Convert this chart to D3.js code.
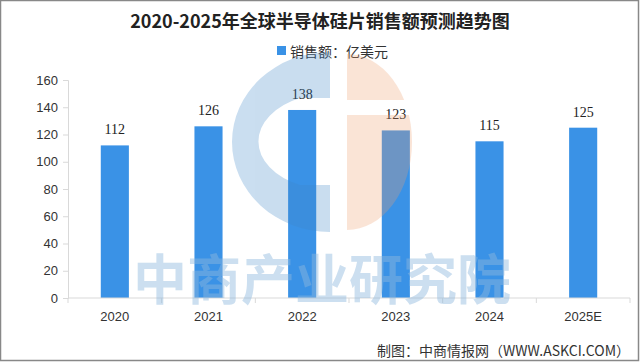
<!DOCTYPE html>
<html><head><meta charset="utf-8">
<script src="https://cdn.jsdelivr.net/npm/d3@7"></script>
<style>body{margin:0;background:#fff}svg{display:block}</style>
</head><body>
<svg id="c" width="640" height="363"></svg>
<script>
const categories = ["2020","2021","2022","2023","2024","2025E"];
const values = [112,126,138,123,115,125];
const yTicks = [0,20,40,60,80,100,120,140,160];
const title = "2020-2025年全球半导体硅片销售额预测趋势图";
const legendLabel = "销售额：亿美元";
const source = "制图：中商情报网（WWW.ASKCI.COM）";
const watermark = "中商产业研究院";

const svg = d3.select("#c");
const W = 640, H = 363;
const m = {left:68, right:10, top:80, bottom:65};
const x = d3.scaleBand().domain(categories).range([m.left, 630]).paddingInner(0.7).paddingOuter(0.35);
const y = d3.scaleLinear().domain([0,160]).range([298, 80]);
const sans = "'Liberation Sans','Noto Sans CJK SC',sans-serif";
const cjk = "'Noto Sans CJK SC',sans-serif";
const barColor = "#3a92e6";

svg.append("rect").attr("x",0).attr("y",0).attr("width",W).attr("height",H).attr("fill","#fff");

// title
svg.append("text").attr("x",320).attr("y",28).attr("text-anchor","middle")
  .attr("font-family",cjk).attr("font-weight","bold").attr("font-size",18).attr("fill","#222").text(title);

// legend
svg.append("rect").attr("x",277).attr("y",46).attr("width",9).attr("height",9).attr("fill",barColor);
svg.append("text").attr("x",290).attr("y",57).attr("font-family",cjk).attr("font-size",14).attr("fill","#333").text(legendLabel);

// y axis
const yAxis = d3.axisLeft(y).tickValues(yTicks).tickSize(5).tickPadding(5);
const gy = svg.append("g").attr("transform",`translate(${m.left},0)`).call(yAxis);
gy.select(".domain").attr("stroke","#d9d9d9");
gy.selectAll(".tick line").attr("stroke","#d9d9d9");
gy.selectAll("text").attr("font-family",sans).attr("font-size",13).attr("fill","#333");

// bars
svg.append("g").selectAll("rect").data(values).join("rect")
  .attr("x",(d,i)=>x(categories[i])).attr("width",x.bandwidth())
  .attr("y",d=>y(d)).attr("height",d=>y(0)-y(d)).attr("fill",barColor);

// labels
svg.append("g").selectAll("text").data(values).join("text")
  .attr("x",(d,i)=>x(categories[i])+x.bandwidth()/2).attr("y",d=>y(d)-11)
  .attr("text-anchor","middle").attr("font-family","'Liberation Serif',serif").attr("font-size",14).attr("fill","#222").text(d=>d);

// x axis
const gx = svg.append("g").attr("transform","translate(0,298)");
gx.append("line").attr("x1",m.left).attr("x2",630).attr("stroke","#d9d9d9");
const bounds = categories.map((c,i)=>m.left + i*((630-m.left)/categories.length)).concat([630]);
gx.selectAll("line.t").data(bounds).join("line").attr("class","t")
  .attr("x1",d=>d).attr("x2",d=>d).attr("y1",0).attr("y2",5).attr("stroke","#d9d9d9");
gx.selectAll("text").data(categories).join("text")
  .attr("x",d=>x(d)+x.bandwidth()/2).attr("y",23).attr("text-anchor","middle")
  .attr("font-family",sans).attr("font-size",13).attr("fill","#333").text(d=>d);

// watermark logo
const defs = svg.append("defs");
const cp = defs.append("clipPath").attr("id","gap");
cp.append("rect").attr("x",340).attr("y",40).attr("width",100).attr("height",60);
cp.append("rect").attr("x",340).attr("y",115).attr("width",100).attr("height",130);
const wm = svg.append("g").attr("opacity",0.28);
wm.append("path")
  .attr("d","M330,52 A98,90 0 0 0 330,232 L330,185 L300,185 A72,48 0 0 1 300,98 L330,98 Z")
  .attr("fill","#3f87c8");
wm.append("path").attr("d","M347,54 A65,88 0 0 1 347,230 Z")
  .attr("clip-path","url(#gap)").attr("fill","#f0a070");

svg.append("text").attr("x",322).attr("y",300).attr("text-anchor","middle")
  .attr("font-family",cjk).attr("font-weight","bold").attr("font-size",54).attr("fill","#8fb9de").attr("opacity",0.45)
  .text(watermark);

// source
svg.append("text").attr("x",630).attr("y",356).attr("text-anchor","end")
  .attr("font-family",cjk).attr("font-size",14).attr("fill","#333").text(source);

// border
svg.append("rect").attr("x",0.5).attr("y",0.5).attr("width",638).attr("height",360)
  .attr("fill","none").attr("stroke","#888").attr("stroke-width",1.5);
</script>
</body></html>
